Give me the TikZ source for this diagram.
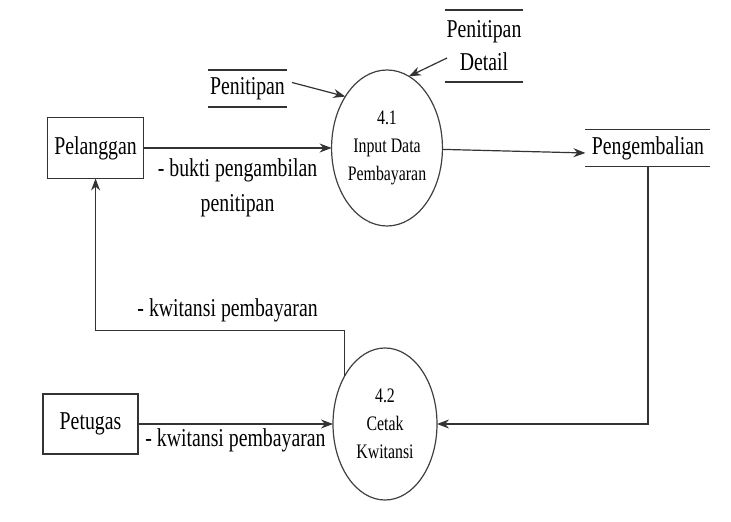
\documentclass[tikz,border=0pt]{standalone}
\usepackage{fontspec}
\setmainfont{Liberation Serif}[FakeStretch=0.77]
\usetikzlibrary{positioning,shapes.geometric,arrows.meta}

\begin{document}
\begin{tikzpicture}[
    x=1pt, y=1pt,
    line width=0.6pt,
    font=\fontsize{12.85}{16.5}\selectfont,
 proc/.style = {
        draw=black!75, ellipse, align=center, inner sep=0pt, outer sep=0pt,
        font=\fontsize{10.3}{14}\selectfont},
 entity/.style = {
        draw=black!80, rectangle, align=center, inner sep=0pt, outer sep=0pt},
 store/.style = {
        rectangle, align=center, inner sep=0pt, outer sep=0pt},
 flow/.style = {
        font=\fontsize{12.85}{17.5}\selectfont, align=center, text=black},
     arrow/.style = {draw=black!80, -{Stealth[length=6pt,width=4.5pt]}}
                    ]
\useasboundingbox (-193.5,-187) rectangle (172,74);
% the processes
\node (p41) [proc, minimum width=53pt, minimum height=78pt]   {4.1\\Input Data\\Pembayaran};
\node (p42) [proc, minimum width=52pt, minimum height=76pt,
             below=61pt of p41, xshift=-1pt]                   {4.2\\Cetak\\Kwitansi};
% the entities on the left
\node (pel) [entity, minimum width=48pt, minimum height=30.5pt,
             left=94pt of p41]                                 {Pelanggan};
\node (pet) [entity, minimum width=47.5pt, minimum height=30pt,
             left=97.5pt of p42]                               {Petugas};
% the data stores
\node (pgb) [store, minimum width=62.5pt, minimum height=18.5pt,
             right=71.5pt of p41]                              {Pengembalian};
\node (pnt) [store, minimum width=39.5pt, minimum height=18.5pt]
             at (-69.75,29.75)                                 {Penitipan};
\node (pnd) [store, minimum width=39pt, minimum height=36pt]
             at (48.5,51)                                      {Penitipan\\Detail};
\foreach \s in {pnt,pnd,pgb}
    \draw[black!80] (\s.north west) -- (\s.north east)
                    (\s.south west) -- (\s.south east);
% the flows
\draw[arrow] (pel) -- node[flow, below, inner sep=5pt]
                   {- bukti pengambilan\\penitipan} (p41);
\draw[arrow] ([xshift=2.5pt,yshift=3pt] pnt.east) -- (p41.129);
\draw[arrow] ([xshift=1pt,yshift=-6pt] pnd.west) -- (p41.73);
\draw[arrow] (p41) -- ([yshift=-2.5pt] pgb.west);
\draw[arrow] (pgb.south) |- (p42);
\draw[arrow] (pet) -- node[flow, below, inner sep=2pt]
                   {- kwitansi pembayaran} (p42);
\draw[arrow] (p42.130) |- node[flow, above, inner sep=4pt, pos=0.735]
                   {- kwitansi pembayaran} ([yshift=-76pt] pel.south)
                   -- (pel.south);
\end{tikzpicture}
\end{document}
